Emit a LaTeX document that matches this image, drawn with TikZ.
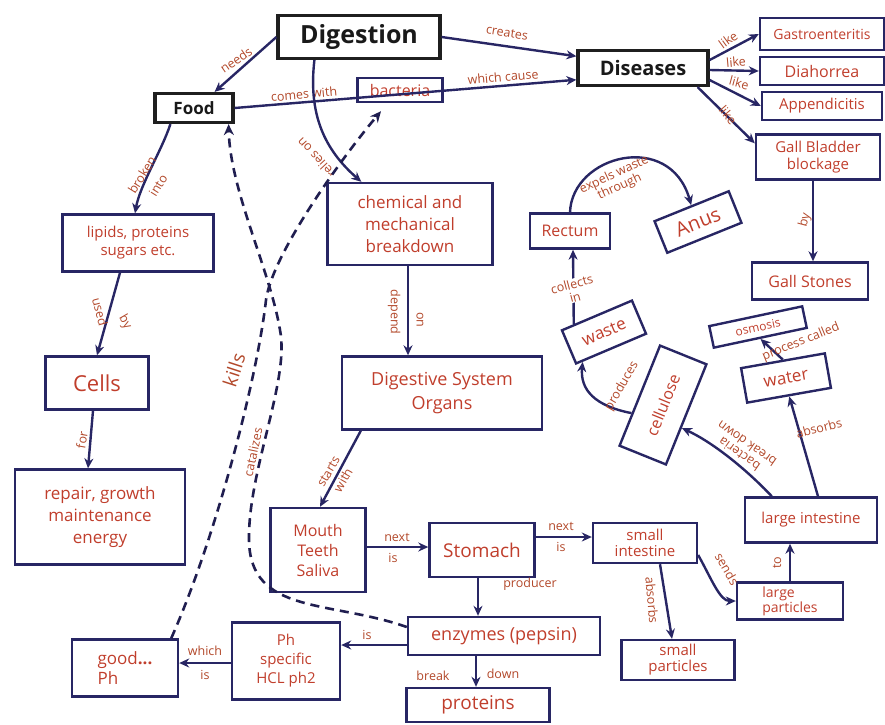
\documentclass[tikz,border=0pt]{standalone}
\usepackage{fontspec}
\setmainfont{Open Sans}
\usetikzlibrary{arrows.meta,calc}
\definecolor{navy}{RGB}{40,38,100}
\definecolor{tred}{RGB}{192,62,44}
\definecolor{lred}{RGB}{178,72,42}
\newcommand\fsz[2]{\fontsize{#1}{#2}\selectfont}
\begin{document}
\begin{tikzpicture}[x=1pt,y=-1pt,
  box/.style={draw=navy, line width=2.4pt, text=tred, align=center, inner sep=1pt},
  mainbox/.style={draw=black!88, line width=3.2pt, text=black!90, align=center, inner sep=1pt},
  lbl/.style={text=lred, inner sep=0.5pt, align=center, font=\fsz{12.5}{13}},
  conn/.style={draw=navy, line width=2.4pt, -{Stealth[length=10pt,width=9pt]}},
  dashconn/.style={draw=navy!80!black, line width=2.6pt, dash pattern=on 9pt off 6pt, -{Stealth[length=11pt,width=10pt]}}
]
\useasboundingbox (0,0) rectangle (885,724);

% nodes
\node[mainbox, minimum width=162pt, minimum height=43pt, font=\bfseries\fsz{25}{25}] (dig) at (359,37) {Digestion};
\node[mainbox, minimum width=78pt, minimum height=29pt, font=\bfseries\fsz{17}{17}] (food) at (194,108) {Food};
\node[mainbox, minimum width=130pt, minimum height=35pt, font=\bfseries\fsz{20}{20}] (dis) at (643,68) {Diseases};
\node[box, minimum width=85pt, minimum height=24pt, font=\fsz{16}{16}] (bac) at (400,90) {bacteria};
\node[box, minimum width=124pt, minimum height=32pt, font=\fsz{14}{14}] (gas) at (822,34) {Gastroenteritis};
\node[box, minimum width=124pt, minimum height=28pt, font=\fsz{16}{16}] (dia) at (822,71) {Diahorrea};
\node[box, minimum width=120pt, minimum height=28pt, font=\fsz{15}{15}] (app) at (822,106) {Appendicitis};
\node[box, minimum width=124pt, minimum height=45pt, font=\fsz{15}{17}] (gall) at (818,157) {Gall Bladder\\blockage};
\node[box, minimum width=116pt, minimum height=37pt, font=\fsz{16}{16}] (stones) at (810,281) {Gall Stones};
\node[box, minimum width=151pt, minimum height=57pt, font=\fsz{15}{18}] (lip) at (138,243) {lipids, proteins\\sugars etc.};
\node[box, minimum width=103pt, minimum height=53pt, font=\fsz{22}{22}] (cells) at (97,383) {Cells};
\node[box, minimum width=170pt, minimum height=95pt, font=\fsz{17}{22}] (rep) at (100,517) {repair, growth\\maintenance\\energy};
\node[box, minimum width=165pt, minimum height=82pt, font=\fsz{17}{22}] (chem) at (410,224) {chemical and\\mechanical\\breakdown};
\node[box, minimum width=200pt, minimum height=73pt, font=\fsz{18}{24}] (dso) at (442,393) {Digestive System\\Organs};
\node[box, minimum width=95pt, minimum height=84pt, font=\fsz{16}{20}] (mouth) at (318,550) {Mouth\\Teeth\\Saliva};
\node[box, minimum width=105pt, minimum height=54pt, font=\fsz{19}{19}] (stom) at (482,550) {Stomach};
\node[box, minimum width=104pt, minimum height=40pt, font=\fsz{15}{16}] (si) at (645,543) {small\\intestine};
\node[box, minimum width=192pt, minimum height=38pt, font=\fsz{18}{18}] (enz) at (504,636) {enzymes (pepsin)};
\node[box, minimum width=143pt, minimum height=34pt, font=\fsz{19}{19}] (prot) at (478,705) {proteins};
\node[box, minimum width=108pt, minimum height=77pt, font=\fsz{15}{19}] (ph) at (286,661) {Ph\\specific\\HCL ph2};
\node[box, minimum width=106pt, minimum height=57pt, font=\fsz{17}{20}, align=left] (good) at (125,668) {good\textbf{...}\\Ph};
\node[box, minimum width=113pt, minimum height=40pt, font=\fsz{15}{16}] (sp) at (678,660) {small\\particles};
\node[box, minimum width=106pt, minimum height=37pt, font=\fsz{14}{15}, align=left] (lp) at (790,601) {large\\particles};
\node[box, minimum width=132pt, minimum height=45pt, font=\fsz{15}{15}] (li) at (811,520) {large intestine};
\node[box, minimum width=85pt, minimum height=35pt, rotate=10, font=\fsz{17}{17}] (water) at (786,378) {water};
\node[box, minimum width=95pt, minimum height=22pt, rotate=12, font=\fsz{12}{12}] (osm) at (758,327) {osmosis};
\node[box, minimum width=108pt, minimum height=50pt, rotate=68, font=\fsz{16}{16}] (cell) at (663,405) {cellulose};
\node[box, minimum width=76pt, minimum height=36pt, rotate=23, font=\fsz{17}{17}] (waste) at (604,332) {waste};
\node[box, minimum width=80pt, minimum height=35pt, font=\fsz{16}{16}] (rect) at (570,231) {Rectum};
\node[box, minimum width=80pt, minimum height=34pt, rotate=22, font=\fsz{20}{20}] (anus) at (698,222) {Anus};

% connectors
\draw[conn] (dig.west) -- ([xshift=-20pt]food.north east);
\node[lbl, rotate=35] (lneeds) at (236,60) {needs};
\draw[conn] (dig.east) -- (dis.170);
\node[lbl, rotate=-9] (lcreates) at (507,33) {creates};
\draw[conn] (food.east) -- (dis.190);
\node[lbl, rotate=5] (lcomes) at (304,94) {comes with};
\node[lbl, rotate=5] (lwhich) at (503,77) {which cause};
\draw[conn] ([xshift=38pt]dig.south west) .. controls (308,115) and (325,150) .. ([xshift=35pt]chem.north west);
\node[lbl, rotate=133] (lrelies) at (316,158) {relies on};
\draw[conn] ([xshift=17pt]food.south west) .. controls (162,150) and (140,185) .. ([xshift=-3pt]lip.north);
\node[lbl, rotate=58, font=\fsz{12.5}{19}] (lbroken) at (150,180) {broken\\into};
\draw[conn] ([xshift=-18pt]lip.south) -- (cells.north);
\node[lbl, rotate=-75] (lused) at (100,312) {used};
\node[lbl, rotate=-60] (lby) at (125,322) {by};
\draw[conn] ([xshift=-4pt]cells.south) -- ([xshift=-12pt]rep.north);
\node[lbl, rotate=80] (lfor) at (82,440) {for};
\draw[conn] ([xshift=-2pt]chem.south) -- ([xshift=-2pt]chem.south |- dso.north);
\node[lbl, rotate=-90] (ldepend) at (394,312) {depend};
\node[lbl, rotate=-90] (lon) at (420,320) {on};
\draw[conn] ([xshift=20pt]dso.south west) -- ([xshift=2pt]mouth.north);
\node[lbl, rotate=60, font=\fsz{12.5}{17}] (lstarts) at (336,476) {starts\\with};
\draw[conn] ([yshift=3pt]mouth.east) -- ([yshift=3pt]stom.west);
\node[lbl] (lnext1) at (397,537) {next};
\node[lbl] (lis1) at (393,558) {is};
\draw[conn] ([yshift=13pt]stom.east) -- ([yshift=6pt]si.west);
\node[lbl] (lnext2) at (561,526) {next};
\node[lbl] (lis2) at (561,547) {is};
\draw[conn] ([xshift=-4pt]stom.south) -- ([xshift=-4pt]stom.south |- enz.north);
\node[lbl] (lprod) at (530,584) {producer};
\draw[conn] ([xshift=-28pt]enz.south) -- ([xshift=-28pt]enz.south |- prot.north);
\node[lbl] (lbreak) at (433,676) {break};
\node[lbl] (ldown) at (503,674) {down};
\draw[conn] ([yshift=-9pt]enz.west) -- ([yshift=-9pt]enz.west -| ph.east);
\node[lbl] (lis3) at (367,635) {is};
\draw[conn] ([yshift=-2pt]ph.west) -- ([yshift=-2pt]ph.west -| good.east);
\node[lbl] (lwhich2) at (205,651) {which};
\node[lbl] (lis4) at (205,675) {is};
\draw[conn] ([xshift=15pt]si.south) -- ([xshift=-6pt]sp.north);
\node[lbl, rotate=-85] (labs1) at (652,600) {absorbs};
\draw[conn] ([yshift=-12pt]si.east) .. controls (712,580) and (720,601) .. (lp.west);
\node[lbl, rotate=-60] (lsends) at (727,569) {sends};
\draw[conn] (lp.north) -- (lp.north |- li.south);
\node[lbl, rotate=90] (lto) at (777,563) {to};
\draw[conn] ([xshift=7pt]li.north) -- (water.south);
\node[lbl, rotate=15] (labs2) at (819,428) {absorbs};
\draw[conn] (water.north) -- (osm.south);
\node[lbl, rotate=22] (lproc) at (801,342) {process called};
\draw[conn] ([xshift=28pt]li.north west) .. controls (745,468) and (712,442) .. ($(cell.south)!0.26!(cell.south west)$);
\node[lbl, rotate=145] (lbact) at (743,449) {bacteria\\break down};
\draw[conn] ($(cell.north)!0.35!(cell.north west)$) .. controls (595,406) and (580,390) .. ($(waste.south west)!0.2!(waste.south)$);
\node[lbl, rotate=60] (lproduces) at (622,386) {produces};
\draw[conn] ($(waste.north west)!0.37!(waste.north)$) -- node[lbl, rotate=15, fill=white, pos=0.45] (lcollects) {collects\\in} ([xshift=3pt]rect.south);
\draw[conn] (rect.north) .. controls (572,155) and (670,130) .. (anus.north);
\node[lbl, rotate=25] (lexpels) at (617,181) {expels waste\\through};
\draw[conn] ([xshift=-5pt]gall.south) -- ([xshift=3pt]stones.north);
\node[lbl, rotate=75] (lby2) at (805,220) {by};
\draw[conn] ([yshift=8pt]dis.east) -- (gas.west);
\node[lbl, rotate=36] (llike1) at (728,40) {like};
\draw[conn] ([yshift=-2pt]dis.east) -- (dia.west);
\node[lbl, rotate=5] (llike2) at (736,62) {like};
\draw[conn] ([yshift=-12pt]dis.east) -- (app.west);
\node[lbl, rotate=-15] (llike3) at (739,83) {like};
\draw[conn] ([xshift=-12pt]dis.south east) -- ([yshift=-10pt]gall.north west);
\node[lbl, rotate=-50] (llike4) at (728,115) {like};

% dashed connectors
\draw[dashconn] ([xshift=-8pt]good.north east) .. controls (215,540) and (257,380) .. (266,300) .. controls (272,255) and (340,160) .. ([xshift=-19pt,yshift=-8pt]bac.south);
\node[lbl, rotate=72, font=\fsz{19}{19}] (lkills) at (234,370) {kills};
\draw[dashconn] ([yshift=9pt]enz.west) .. controls (330,600) and (250,615) .. (249,540) .. controls (248,470) and (290,380) .. (280,330) .. controls (270,270) and (230,190) .. ([xshift=-6pt]food.south east);
\node[lbl, rotate=78] (lcat) at (253,452) {catalizes};
\end{tikzpicture}
\end{document}
